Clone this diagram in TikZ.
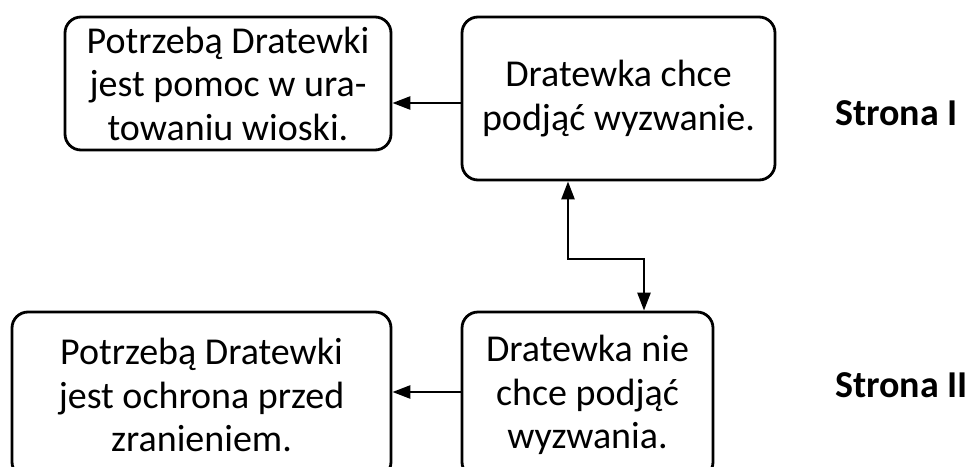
\documentclass[tikz,border=0pt]{standalone}
\usepackage{fontspec}
\setmainfont{Carlito}
\usetikzlibrary{arrows.meta}
\begin{document}
\begin{tikzpicture}[x=1pt,y=-1pt,
  box/.style={draw, line width=2.8pt, rounded corners=16pt, align=center,
    inner sep=0pt, font=\fontsize{38}{43.5}\selectfont},
  side/.style={anchor=base west, inner sep=0pt,
    font=\fontsize{38}{44}\selectfont\bfseries},
  arr/.style={line width=2.6pt, -{Triangle[length=18pt,width=13pt]}},
  biarr/.style={line width=2.6pt, {Triangle[length=18pt,width=13pt]}-{Triangle[length=18pt,width=13pt]}}]
\useasboundingbox (0,0) rectangle (966,466);
\clip (0,0) rectangle (966,466);

% boxes
\node[box, minimum width=326pt, minimum height=133pt] (need1) at (228,83.5)
  {Potrzebą Dratewki\\jest pomoc w ura-\\towaniu wioski.};
\node[box, minimum width=313pt, minimum height=163pt] (want1) at (618.5,98.5)
  {Dratewka chce\\podjąć wyzwanie.};
\node[box, minimum width=379pt, minimum height=166pt] (need2) at (201.5,395)
  {Potrzebą Dratewki\\jest ochrona przed\\zranieniem.};
\node[box, minimum width=251pt, minimum height=166pt] (want2) at (587.5,395)
  {Dratewka nie\\chce podjąć\\wyzwania.};

% side labels
\node[side] (s1) at (835,125) {Strona I};
\node[side] (s2) at (835,397) {Strona II};

% connectors
\draw[arr] (want1.west |- 0,103) -- (need1.east |- 0,103);
\draw[arr] (want2.west |- 0,392) -- (need2.east |- 0,392);
\coordinate (j1) at (568,259);
\coordinate (j2) at (644,259);
\draw[biarr] (j1 |- want1.south) -- (j1) -- (j2) -- (j2 |- want2.north);
\end{tikzpicture}
\end{document}
